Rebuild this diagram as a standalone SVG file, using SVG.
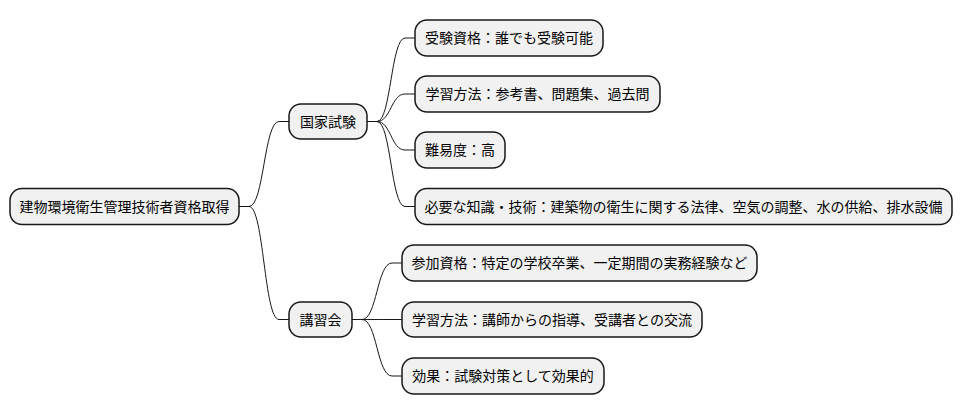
<svg xmlns="http://www.w3.org/2000/svg" width="964" height="415" viewBox="0 0 964 415">
<style>
.n rect{fill:#F1F1F1;stroke:#181818;stroke-width:1.5}
.n text{font-family:"Noto Sans CJK JP","Noto Sans",sans-serif;font-size:14px;fill:#000000}
.c path{fill:none;stroke:#181818;stroke-width:1}
</style>
<rect width="964" height="415" fill="#FFFFFF"/>
<g class="c" id="connectors">
<path d="M239,206.5 L249,206.5 C264,206.5 264,121.5 279,121.5 L289,121.5"/>
<path d="M239,206.5 L249,206.5 C264,206.5 264,319.5 279,319.5 L289,319.5"/>
<path d="M367,121.5 L377,121.5 C391,121.5 391,38 405,38 L415,38"/>
<path d="M367,121.5 L377,121.5 C391,121.5 391,94 405,94 L415,94"/>
<path d="M367,121.5 L377,121.5 C391,121.5 391,150 405,150 L415,150"/>
<path d="M367,121.5 L377,121.5 C391,121.5 391,206.5 405,206.5 L415,206.5"/>
<path d="M352,319.5 L362,319.5 C377,319.5 377,263 392,263 L402,263"/>
<path d="M352,319.5 L362,319.5 C377,319.5 377,319.5 392,319.5 L402,319.5"/>
<path d="M352,319.5 L362,319.5 C377,319.5 377,376 392,376 L402,376"/>
</g>
<g class="n" id="root"><rect x="10" y="188.5" width="229" height="36" rx="12"/><text x="124.5" y="211.5" text-anchor="middle">建物環境衛生管理技術者資格取得</text></g>
<g class="n" id="kokka"><rect x="289" y="104" width="78" height="35" rx="12"/><text x="328" y="126.5" text-anchor="middle">国家試験</text></g>
<g class="n" id="k1"><rect x="415" y="20" width="188" height="36" rx="12"/><text x="509" y="43" text-anchor="middle">受験資格：誰でも受験可能</text></g>
<g class="n" id="k2"><rect x="415" y="76" width="245" height="36" rx="12"/><text x="537.5" y="99" text-anchor="middle">学習方法：参考書、問題集、過去問</text></g>
<g class="n" id="k3"><rect x="415" y="132" width="90" height="36" rx="12"/><text x="460" y="155" text-anchor="middle">難易度：高</text></g>
<g class="n" id="k4"><rect x="415" y="188.5" width="537" height="36" rx="12"/><text x="683.5" y="211.5" text-anchor="middle">必要な知識・技術：建築物の衛生に関する法律、空気の調整、水の供給、排水設備</text></g>
<g class="n" id="koshu"><rect x="289" y="302" width="63" height="35" rx="12"/><text x="320.5" y="324.5" text-anchor="middle">講習会</text></g>
<g class="n" id="s1"><rect x="402" y="245" width="355" height="36" rx="12"/><text x="579.5" y="268" text-anchor="middle">参加資格：特定の学校卒業、一定期間の実務経験など</text></g>
<g class="n" id="s2"><rect x="402" y="302" width="300" height="35" rx="12"/><text x="552" y="324.5" text-anchor="middle">学習方法：講師からの指導、受講者との交流</text></g>
<g class="n" id="s3"><rect x="402" y="358" width="202" height="36" rx="12"/><text x="503" y="381" text-anchor="middle">効果：試験対策として効果的</text></g>
</svg>
